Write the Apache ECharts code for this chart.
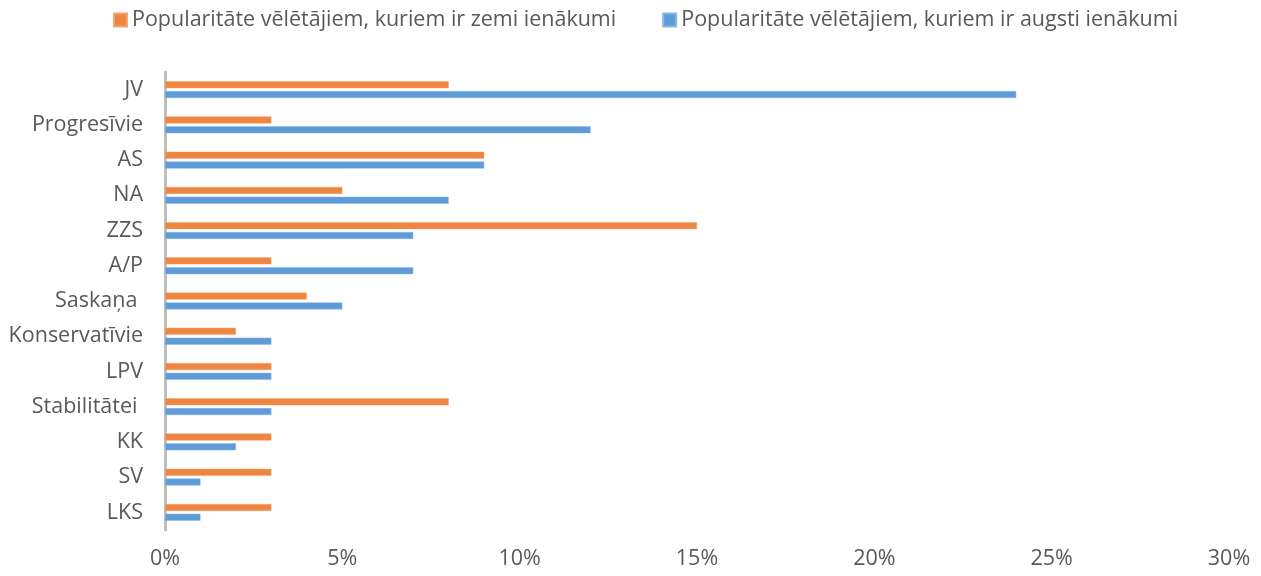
<!DOCTYPE html>
<html>
<head>
<meta charset="utf-8">
<script src="https://cdn.jsdelivr.net/npm/echarts@6/dist/echarts.min.js"></script>
<style>
  html, body { margin: 0; padding: 0; background: #fff; }
  #chart { width: 1261px; height: 576px; }
</style>
</head>
<body>
<div id="chart"></div>
<script>
var parties = ['JV', 'Progresīvie', 'AS', 'NA', 'ZZS', 'A/P', 'Saskaņa ', 'Konservatīvie', 'LPV', 'Stabilitātei ', 'KK', 'SV', 'LKS'];
var lowIncome = [8, 3, 9, 5, 15, 3, 4, 2, 3, 8, 3, 3, 3];
var highIncome = [24, 12, 9, 8, 7, 7, 5, 3, 3, 3, 2, 1, 1];
var xTicks = [0, 5, 10, 15, 20, 25, 30];

var chart = echarts.init(document.getElementById('chart'));
var font = '"Open Sans", sans-serif';
var grey = '#595959';

var option = {
  animation: false,
  textStyle: { fontFamily: font },
  color: ['#EE8540', '#5E9BD8'],
  legend: {
    left: 108,
    top: 4,
    itemWidth: 13,
    itemHeight: 13,
    itemGap: 46,
    icon: 'rect',
    textStyle: { fontSize: 21.5, color: grey, fontFamily: font }
  },
  grid: {
    left: 165,
    right: 32,
    top: 72,
    bottom: 46,
    containLabel: false
  },
  xAxis: {
    type: 'value',
    min: 0,
    max: 30,
    interval: 5,
    axisLine: { show: false },
    axisTick: { show: false },
    splitLine: { show: false },
    axisLabel: {
      color: grey,
      fontSize: 21.5,
      margin: 18,
      formatter: function (v) { return xTicks.indexOf(v) >= 0 ? v + '%' : ''; }
    }
  },
  yAxis: {
    type: 'category',
    inverse: true,
    data: parties,
    axisTick: { show: false },
    axisLine: { lineStyle: { color: '#BFBFBF', width: 3 } },
    axisLabel: { color: grey, fontSize: 21.5, margin: 22 }
  },
  series: [{
    name: 'Popularitāte vēlētājiem, kuriem ir zemi ienākumi',
    type: 'bar',
    barWidth: 7,
    barGap: '40%',
    itemStyle: { borderColor: '#F3A56F', borderWidth: 0.5 },
    data: lowIncome
  }, {
    name: 'Popularitāte vēlētājiem, kuriem ir augsti ienākumi',
    type: 'bar',
    barWidth: 7,
    itemStyle: { borderColor: '#8AB8E4', borderWidth: 0.5 },
    data: highIncome
  }]
};

chart.setOption(option);
</script>
</body>
</html>
